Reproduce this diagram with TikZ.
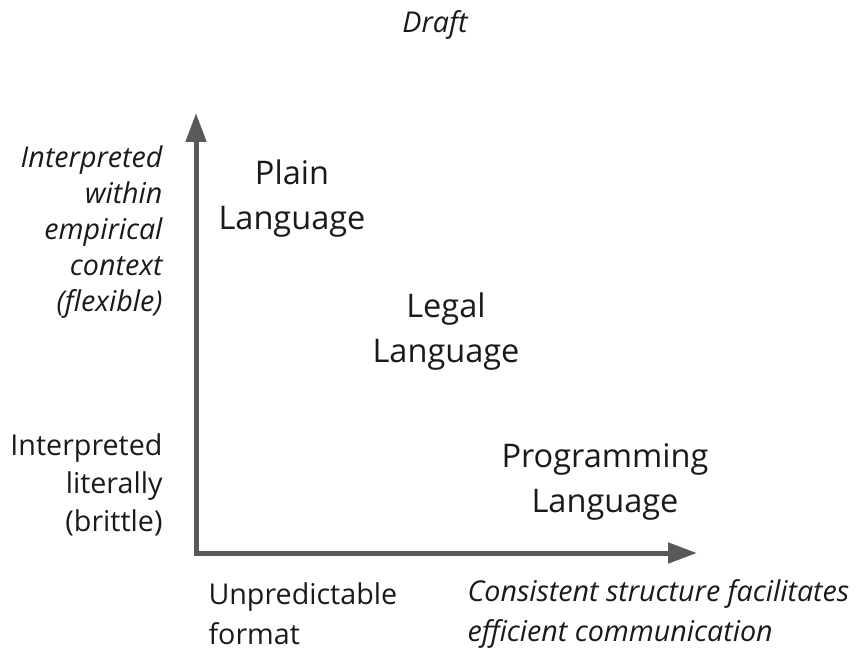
\documentclass[tikz,border=0pt]{standalone}
\usepackage{fontspec}
\setmainfont{Open Sans}
\usetikzlibrary{arrows.meta}
\definecolor{axisgray}{HTML}{595959}
\definecolor{inkgray}{HTML}{1A1A1A}
\tikzset{every picture/.style={line width=0.75pt}}
\tikzset{
  axisline/.style={draw=axisgray, line width=3.75pt, miter limit=10,
    arrows={Triangle[length=21.75pt, width=15pt, fill=axisgray]-Triangle[length=21.75pt, width=15pt, fill=axisgray]}},
  biglabel/.style={inner sep=0.75pt, align=center, text=inkgray, font=\fontsize{24.4}{33.75}\selectfont},
  sidelabel/.style={inner sep=0.75pt, text=inkgray, font=\fontsize{21.5}{27}\selectfont},
}

\begin{document}
\begin{tikzpicture}[x=0.75pt,y=0.75pt,yscale=-1,xscale=1]
		\useasboundingbox (0,0) rectangle (856,652);
		
		%Axes
		\coordinate (origin) at (196,553);
		\coordinate (ytip) at (196,113);
		\coordinate (xtip) at (697,553);
		\draw [axisline] (ytip) -- (origin) -- (xtip);
		
		%Title
		\node (draft) at (435,25) [sidelabel, font=\fontsize{21.5}{27}\selectfont\itshape] {Draft};
		
		%Languages
		\node (plain) at (292,199) [biglabel] {Plain\\Language};
		\node (legal) at (446,332) [biglabel] {Legal\\Language};
		\node (prog) at (605,482) [biglabel] {Programming\\Language};
		
		%Vertical axis labels
		\node (flexible) at (164,232) [sidelabel, anchor=east, align=right, font=\fontsize{21.5}{27}\selectfont\itshape] {Interpreted\\within\\empirical\\context\\(flexible)};
		\node (brittle) at (164,485) [sidelabel, anchor=east, align=right, font=\fontsize{21.5}{28.5}\selectfont] {Interpreted\\literally\\(brittle)};
		
		%Horizontal axis labels
		\node (unpred) at (207,614) [sidelabel, anchor=west, align=left, font=\fontsize{21.5}{30}\selectfont] {Unpredictable\\format};
		\node (consist) at (466,614) [sidelabel, anchor=west, align=left, font=\fontsize{21.5}{30}\selectfont\itshape] {Consistent structure facilitates\\efficient communication};
		
\end{tikzpicture}
\end{document}
